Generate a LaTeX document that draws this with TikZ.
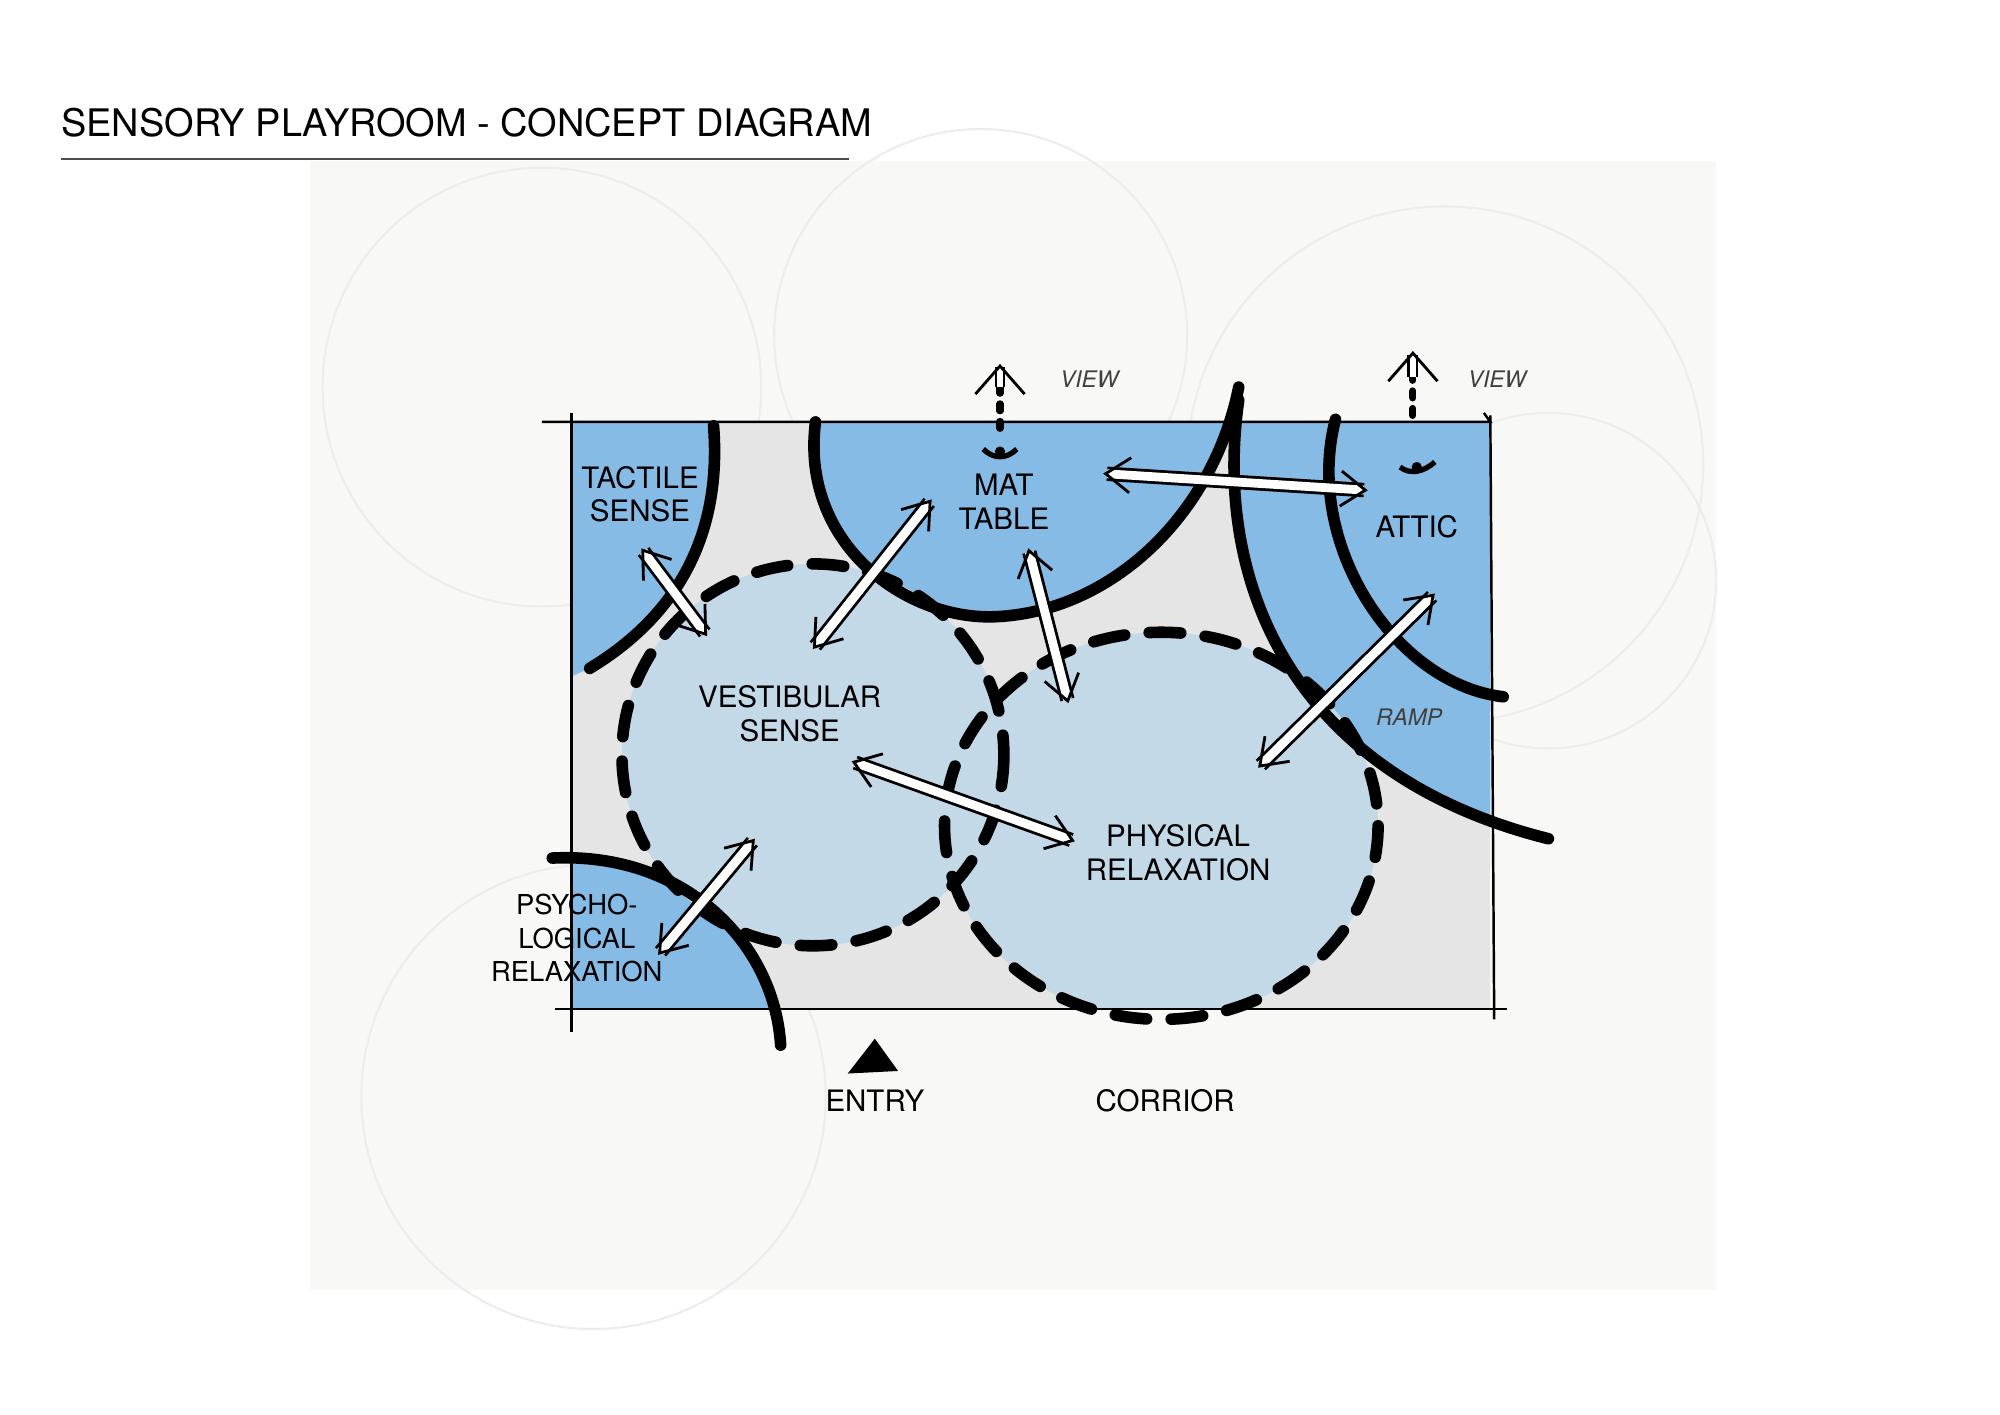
\documentclass[tikz,border=0pt]{standalone}
\usepackage{fontspec}
\setmainfont{TeX Gyre Heros}
\usetikzlibrary{arrows.meta}
\definecolor{blueA}{HTML}{86BBE6}
\definecolor{blueB}{HTML}{C3D9E7}
\definecolor{roomg}{HTML}{E5E5E5}
\definecolor{paper}{HTML}{F8F8F6}
\tikzset{
 thick curve/.style={line width=3.3pt, line cap=round},
 dashc/.style={line width=3.3pt, dash pattern=on 9pt off 7pt, line cap=round},
 lab/.style={font=\fontsize{8.4}{9.6}\selectfont, align=center, inner sep=1pt},
 small/.style={font=\fontsize{6.5}{8}\selectfont\itshape, text=black!75},
 dbl/.style={line width=0.8pt, double=white, double distance=2.5pt, {Straight Barb[length=7pt,width=10pt]}-{Straight Barb[length=7pt,width=10pt]}},
}
\begin{document}
\begin{tikzpicture}[x=0.0129032cm,y=-0.0129032cm]
\useasboundingbox (0,0) rectangle (1550,1096);
\fill[white] (0,0) rectangle (1550,1096);
\fill[paper] (240,125) rectangle (1330,1000);
\foreach \c/\r in {{(420,300)/170},{(760,260)/160},{(1120,360)/200},{(460,850)/180},{(1200,450)/130}}
  \draw[black!7, line width=0.6pt] \c circle (\r);
% title
\node[anchor=base west, font=\fontsize{10.8}{13}\selectfont, inner sep=0] (title) at (47,106) {SENSORY PLAYROOM - CONCEPT DIAGRAM};
\draw[line width=0.5pt, black!70] (47,123) -- (658,123);
% room
\fill[roomg] (443,327) rectangle (1155,782);
\begin{scope}
\clip (443,327) rectangle (1155,782);
\fill[blueA] (430,320) -- (553,320) .. controls (560,420) and (520,480) .. (457,518) -- (430,530) -- cycle;
\fill[blueA] (632,320) .. controls (620,420) and (700,480) .. (770,478) .. controls (860,475) and (940,400) .. (960,300) -- cycle;
\fill[blueA] (960,310) .. controls (940,450) and (1000,600) .. (1200,650) -- (1200,310) -- cycle;
\fill[blueA] (428,665) .. controls (530,660) and (600,730) .. (605,810) -- (428,810) -- cycle;
\fill[blueB] (630,585) circle (148);
\fill[blueB] (900,640) ellipse (168 and 150);
\end{scope}
\draw[line width=0.7pt] (420,327) -- (1155,327) -- (1150,320);
\draw[line width=0.7pt] (443,320) -- (443,800);
\draw[line width=0.7pt] (430,782) -- (1168,782);
\draw[line width=0.7pt] (1155,322) -- (1158,790);
% dashed circles
\draw[dashc] (630,585) circle (148);
\draw[dashc] (900,640) ellipse (168 and 150);
% curves
\draw[thick curve] (553,330) .. controls (560,420) and (520,480) .. (457,518);
\draw[thick curve] (632,327) .. controls (620,420) and (700,480) .. (770,478) .. controls (860,475) and (940,400) .. (960,300);
\draw[thick curve] (1035,325) .. controls (1010,420) and (1080,530) .. (1165,540);
\draw[thick curve] (960,310) .. controls (940,450) and (1000,600) .. (1200,650);
\draw[thick curve] (428,665) .. controls (530,660) and (600,730) .. (605,810);
% arrows
\coordinate (a1) at (497,425); \coordinate (b1) at (548,493);
\coordinate (a2) at (722,387); \coordinate (b2) at (630,503);
\coordinate (a3) at (797,425); \coordinate (b3) at (828,545);
\coordinate (a4) at (855,367); \coordinate (b4) at (1060,380);
\coordinate (a5) at (1112,460); \coordinate (b5) at (975,595);
\coordinate (a6) at (660,590); \coordinate (b6) at (833,652);
\coordinate (a7) at (585,650); \coordinate (b7) at (510,740);
\foreach \i in {1,...,7} \draw[dbl] (a\i) -- (b\i);
% view symbols
\coordinate (v1a) at (775,332); \coordinate (v1b) at (775,282);
\coordinate (v2a) at (1095,322); \coordinate (v2b) at (1095,272);
\draw[line width=2pt, dash pattern=on 2pt off 3pt, line cap=round] (v1a) -- (775,300);
\draw[line width=2pt, dash pattern=on 2pt off 3pt, line cap=round] (v2a) -- (1095,292);
\draw[line width=0.8pt, double=white, double distance=1.5pt, -{Straight Barb[length=8pt,width=14pt]}] (775,300) -- (v1b);
\draw[line width=0.8pt, double=white, double distance=1.5pt, -{Straight Barb[length=8pt,width=14pt]}] (1095,292) -- (v2b);
\draw[line width=1.5pt] (762,348) .. controls (770,356) and (780,356) .. (788,348);
\fill (775,350) circle (4);
\draw[line width=1.5pt] (1085,362) .. controls (1093,368) and (1103,366) .. (1112,358);
\fill (1098,362) circle (4);
\node[small, anchor=west] (view1) at (812,294) {VIEW};
\node[small, anchor=west] (view2) at (1128,294) {VIEW};
\node[small] (ramp) at (1092,556) {RAMP};
% entry
\fill (678,805) -- (696,830) -- (657,832) -- cycle;
% labels
\node[lab] (tac) at (496,383) {TACTILE\\SENSE};
\node[lab] (mat) at (778,389) {MAT\\TABLE};
\node[lab] (att) at (1098,408) {ATTIC};
\node[lab] (ves) at (612,553) {VESTIBULAR\\SENSE};
\node[lab] (phy) at (913,661) {PHYSICAL\\RELAXATION};
\node[lab, font=\fontsize{7.8}{9.6}\selectfont] (psy) at (447,727) {PSYCHO-\\LOGICAL\\RELAXATION};
\node[lab] (ent) at (678,853) {ENTRY};
\node[lab] (cor) at (903,853) {CORRIOR};
\end{tikzpicture}
\end{document}
